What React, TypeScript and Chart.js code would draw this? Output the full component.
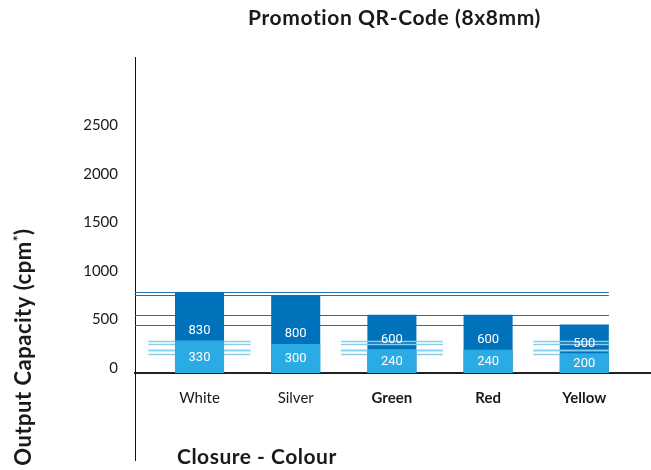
import React, { useEffect, useRef } from 'react';
import { Chart, registerables } from 'chart.js';

Chart.register(...registerables);

// ---- data ----
const categories = ['White', 'Silver', 'Green', 'Red', 'Yellow'];
const darkValues = [830, 800, 600, 600, 500];
const lightValues = [330, 300, 240, 240, 200];
const yTickLabels = [0, 500, 1000, 1500, 2000, 2500];
const boldCategories = ['Green', 'Red', 'Yellow'];
const chartTitle = 'Promotion QR-Code (8x8mm)';
const yTitleMain = 'Output Capacity (cpm';
const yTitleSup = '*';
const yTitleEnd = ')';
const xTitle = 'Closure - Colour';
const lineCategoryIdx = [0, 2, 4];

// ---- styles ----
const DARK = '#0071bb';
const LIGHT = '#2aabe3';
const DARK_LINE = '#1f6fb6';
const LIGHT_LINE = '#86cdf0';
const FONT = 'Lato, "DejaVu Sans", sans-serif';
const TEXT = '#1a1a1a';

const lastBarRight = (chart: any) => {
  const meta = chart.getDatasetMeta(0);
  const last = meta.data[meta.data.length - 1].getProps(['x', 'width'], true);
  return last.x + last.width / 2;
};

const decorPlugin = {
  id: 'decor',
  beforeDatasetsDraw(chart: any) {
    const { ctx, chartArea, scales } = chart;
    const y = scales.y;
    const right = lastBarRight(chart);
    ctx.save();
    ctx.strokeStyle = DARK_LINE;
    ctx.lineWidth = 1.2;
    darkValues.forEach((v) => {
      const py = Math.round(y.getPixelForValue(v)) + 0.5;
      ctx.beginPath();
      ctx.moveTo(chartArea.left, py);
      ctx.lineTo(right, py);
      ctx.stroke();
    });
    ctx.restore();
  },
  beforeDatasetDraw(chart: any, args: any) {
    if (args.index !== 1) return;
    const { ctx, scales } = chart;
    const { x, y } = scales;
    const right = lastBarRight(chart);
    ctx.save();
    ctx.strokeStyle = LIGHT_LINE;
    ctx.lineWidth = 1.3;
    lightValues.forEach((v) => {
      const py = Math.round(y.getPixelForValue(v)) + 0.5;
      lineCategoryIdx.forEach((i) => {
        const x0 = x.getPixelForValue(i - 0.53);
        const x1 = Math.min(x.getPixelForValue(i + 0.53), right);
        ctx.beginPath();
        ctx.moveTo(x0, py);
        ctx.lineTo(x1, py);
        ctx.stroke();
      });
    });
    ctx.restore();
  },
  afterDatasetsDraw(chart: any) {
    const { ctx } = chart;
    const lightMeta = chart.getDatasetMeta(1);
    ctx.save();
    ctx.fillStyle = '#ffffff';
    ctx.font = '13px Roboto, "DejaVu Sans", sans-serif';
    ctx.textAlign = 'center';
    ctx.textBaseline = 'middle';
    categories.forEach((_, i) => {
      const lb = lightMeta.data[i].getProps(['x', 'y', 'base'], true);
      ctx.fillText(String(darkValues[i]), lb.x, lb.y - 10);
      ctx.fillText(String(lightValues[i]), lb.x, (lb.y + lb.base) / 2 + 0.5);
    });
    ctx.restore();
  },
  afterDraw(chart: any) {
    const { ctx, chartArea } = chart;
    ctx.save();
    ctx.fillStyle = TEXT;
    ctx.textBaseline = 'alphabetic';
    (ctx as any).letterSpacing = '0.6px';
    ctx.font = `bold 21px ${FONT}`;
    ctx.textAlign = 'center';
    ctx.fillText(chartTitle, (chartArea.left + chartArea.right) / 2 + 2, 25);
    ctx.textAlign = 'left';
    (ctx as any).letterSpacing = '0.5px';
    ctx.fillText(xTitle, 177, 464);
    ctx.translate(31, 347);
    ctx.rotate(-Math.PI / 2);
    const mainFont = `bold 22px ${FONT}`;
    const supFont = `bold 14px ${FONT}`;
    ctx.font = mainFont;
    const w1 = ctx.measureText(yTitleMain).width;
    const w3 = ctx.measureText(yTitleEnd).width;
    ctx.font = supFont;
    const w2 = ctx.measureText(yTitleSup).width;
    let cx = -(w1 + w2 + w3) / 2;
    ctx.font = mainFont;
    ctx.fillText(yTitleMain, cx, 0);
    cx += w1;
    ctx.font = supFont;
    ctx.fillText(yTitleSup, cx, -8);
    cx += w2;
    ctx.font = mainFont;
    ctx.fillText(yTitleEnd, cx, 0);
    ctx.restore();
  },
};

export default function App() {
  const canvasRef = useRef<HTMLCanvasElement | null>(null);

  useEffect(() => {
    document.body.style.margin = '0';
    const canvas = canvasRef.current;
    if (!canvas) return;
    const chart = new Chart(canvas, {
      type: 'bar',
      data: {
        datasets: [
          {
            label: 'dark',
            data: darkValues.map((v, i) => ({ x: i, y: v })),
            backgroundColor: DARK,
            borderWidth: 0,
            order: 2,
          },
          {
            label: 'light',
            data: lightValues.map((v, i) => ({ x: i, y: v })),
            backgroundColor: LIGHT,
            borderWidth: 0,
            order: 1,
          },
        ],
      },
      options: {
        animation: false,
        responsive: true,
        maintainAspectRatio: false,
        layout: { padding: { top: 57, bottom: 10, left: 0, right: 1 } },
        datasets: {
          bar: { grouped: false, categoryPercentage: 1, barPercentage: 0.51 },
        },
        plugins: {
          legend: { display: false },
          tooltip: { enabled: false },
          title: { display: false },
        },
        scales: {
          x: {
            type: 'linear',
            position: { y: 0 },
            min: -0.6705,
            max: 4.683,
            offset: false,
            grid: { display: false, drawTicks: false },
            border: { display: true, color: '#222222', width: 2 },
            afterBuildTicks: (scale: any) => {
              scale.ticks = categories.map((_, i) => ({ value: i }));
            },
            afterFit: (scale: any) => {
              scale.paddingLeft = 0;
              scale.paddingRight = 0;
            },
            ticks: {
              autoSkip: false,
              maxRotation: 0,
              padding: 16,
              color: TEXT,
              font: (ctx: any) => ({
                family: FONT,
                size: 15,
                weight: boldCategories.includes(categories[ctx.tick?.value]) ? 'bold' : 'normal',
              }),
              callback: (v: any) => categories[v] ?? '',
            },
          },
          y: {
            type: 'linear',
            min: -897,
            max: 3258,
            grid: { display: false, drawTicks: false },
            border: { display: true, color: '#111111', width: 1 },
            afterBuildTicks: (scale: any) => {
              scale.ticks = yTickLabels.map((v) => ({ value: v }));
            },
            afterFit: (scale: any) => {
              scale.width = 135;
              scale.paddingTop = 0;
              scale.paddingBottom = 0;
            },
            ticks: {
              autoSkip: false,
              padding: 17,
              labelOffset: -5,
              color: TEXT,
              font: { family: FONT, size: 15 },
              callback: (v: any) => String(v),
            },
          },
        },
      } as any,
      plugins: [decorPlugin],
    });
    return () => chart.destroy();
  }, []);

  return (
    <div style={{ width: 651, height: 470, position: 'relative' }}>
      <canvas ref={canvasRef} />
    </div>
  );
}
